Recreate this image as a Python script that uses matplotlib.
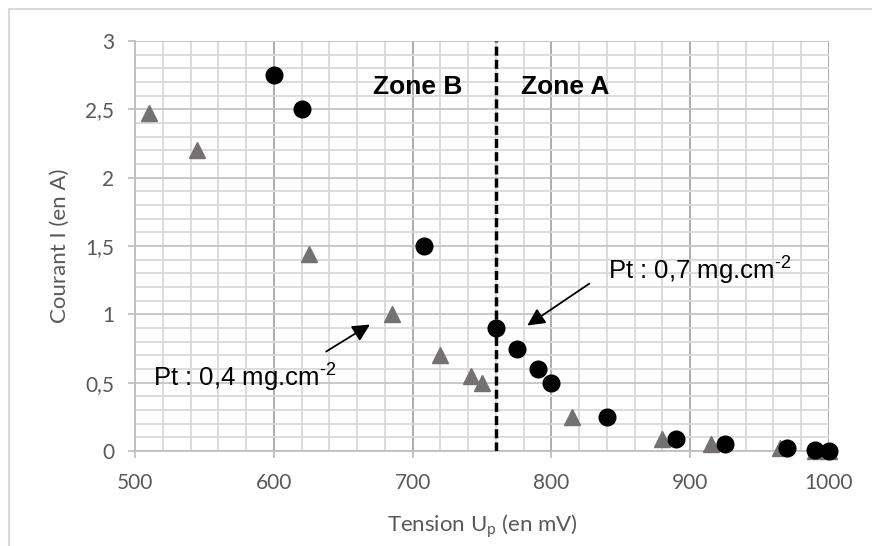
import matplotlib.pyplot as plt
import matplotlib.patches as mpatches
from matplotlib.ticker import MultipleLocator, FuncFormatter

plt.rcParams['mathtext.fontset'] = 'custom'
plt.rcParams['mathtext.rm'] = 'Liberation Sans'

# Pt 0,7 mg.cm-2 (ronds noirs)
u_07 = [600, 620, 708, 760, 775, 790, 800, 840, 890, 925, 970, 990, 1000]
i_07 = [2.75, 2.5, 1.5, 0.9, 0.75, 0.6, 0.5, 0.25, 0.09, 0.05, 0.02, 0.005, 0.0]

# Pt 0,4 mg.cm-2 (triangles gris)
u_04 = [510, 545, 625, 685, 720, 742, 750, 815, 880, 915, 965, 990, 1000]
i_04 = [2.47, 2.2, 1.44, 1.0, 0.7, 0.55, 0.5, 0.25, 0.09, 0.05, 0.02, 0.0, 0.0]

u_limite = 760

fig = plt.figure(figsize=(8.72, 5.46), dpi=100)
ax = fig.add_axes([135/872, 1-451/546, (829-135)/872, (451-41)/546])

# cadre clair autour du graphique
fig.add_artist(mpatches.Rectangle((9/872, -0.05), 1.1, 1-9/546+0.05, transform=fig.transFigure,
                                  fill=False, edgecolor='#d9d9d9', linewidth=1.5))

ax.set_xlim(500, 1000)
ax.set_ylim(0, 3)
ax.xaxis.set_major_locator(MultipleLocator(100))
ax.xaxis.set_minor_locator(MultipleLocator(20))
ax.yaxis.set_major_locator(MultipleLocator(0.5))
ax.yaxis.set_minor_locator(MultipleLocator(0.1))
ax.yaxis.set_major_formatter(FuncFormatter(lambda v, p: ('%g' % v).replace('.', ',')))

ax.grid(which='minor', color='#d9d9d9', linewidth=1.3, zorder=0)
ax.grid(which='major', axis='y', color='#c4c4c4', linewidth=1.3, zorder=0)
ax.grid(which='major', axis='x', color='#a6a6a6', linewidth=1.3, zorder=0)
ax.set_axisbelow(True)
for s in ax.spines.values():
    s.set_visible(False)
for side in ['left', 'bottom']:
    ax.spines[side].set_visible(True)
    ax.spines[side].set_color('#bfbfbf')
    ax.spines[side].set_linewidth(1.3)

ax.tick_params(which='major', length=5, width=1.3, color='#bfbfbf', labelcolor='#595959',
               labelsize=15)
ax.tick_params(axis='x', pad=11)
ax.tick_params(axis='y', pad=10)
ax.tick_params(which='minor', length=0)
for lab in ax.get_xticklabels() + ax.get_yticklabels():
    lab.set_family('Lato')

ax.plot(u_04, i_04, linestyle='none', marker='^', markersize=12, color='#767171', zorder=3, clip_on=False)
ax.plot(u_07, i_07, linestyle='none', marker='o', markersize=12, color='black', zorder=4, clip_on=False)

# limite entre les deux zones
ax.axvline(u_limite, color='black', linestyle=(0, (2.6, 1.2)), linewidth=2.5, zorder=5)

ax.text(704, 2.66, 'Zone B', fontsize=19, fontweight='bold', family='Liberation Sans',
        ha='center', va='center')
ax.text(810, 2.66, 'Zone A', fontsize=19, fontweight='bold', family='Liberation Sans',
        ha='center', va='center')

ax.annotate('', xy=(781, 0.907), xytext=(829, 1.236),
            arrowprops=dict(arrowstyle='-|>', color='black', lw=1.3, mutation_scale=26))
ax.text(841, 1.26, r'Pt : 0,7 mg.cm$^{\text{-2}}$', fontsize=18.5, family='Liberation Sans',
        ha='left', va='baseline')
ax.annotate('', xy=(671, 0.936), xytext=(636, 0.717),
            arrowprops=dict(arrowstyle='-|>', color='black', lw=1.3, mutation_scale=26))
ax.text(513, 0.48, r'Pt : 0,4 mg.cm$^{\text{-2}}$', fontsize=18.5, family='Liberation Sans',
        ha='left', va='baseline')

ax.set_xlabel(r'Tension U$_\mathregular{p}$ (en mV)', fontsize=16, color='#595959', family='Lato')
ax.set_ylabel('Courant I (en A)', fontsize=16, color='#595959', family='Lato')
ax.xaxis.set_label_coords(0.5, -61/410)
ax.yaxis.set_label_coords(-65/694, 0.5)

fig.savefig('out.png', dpi=100)
